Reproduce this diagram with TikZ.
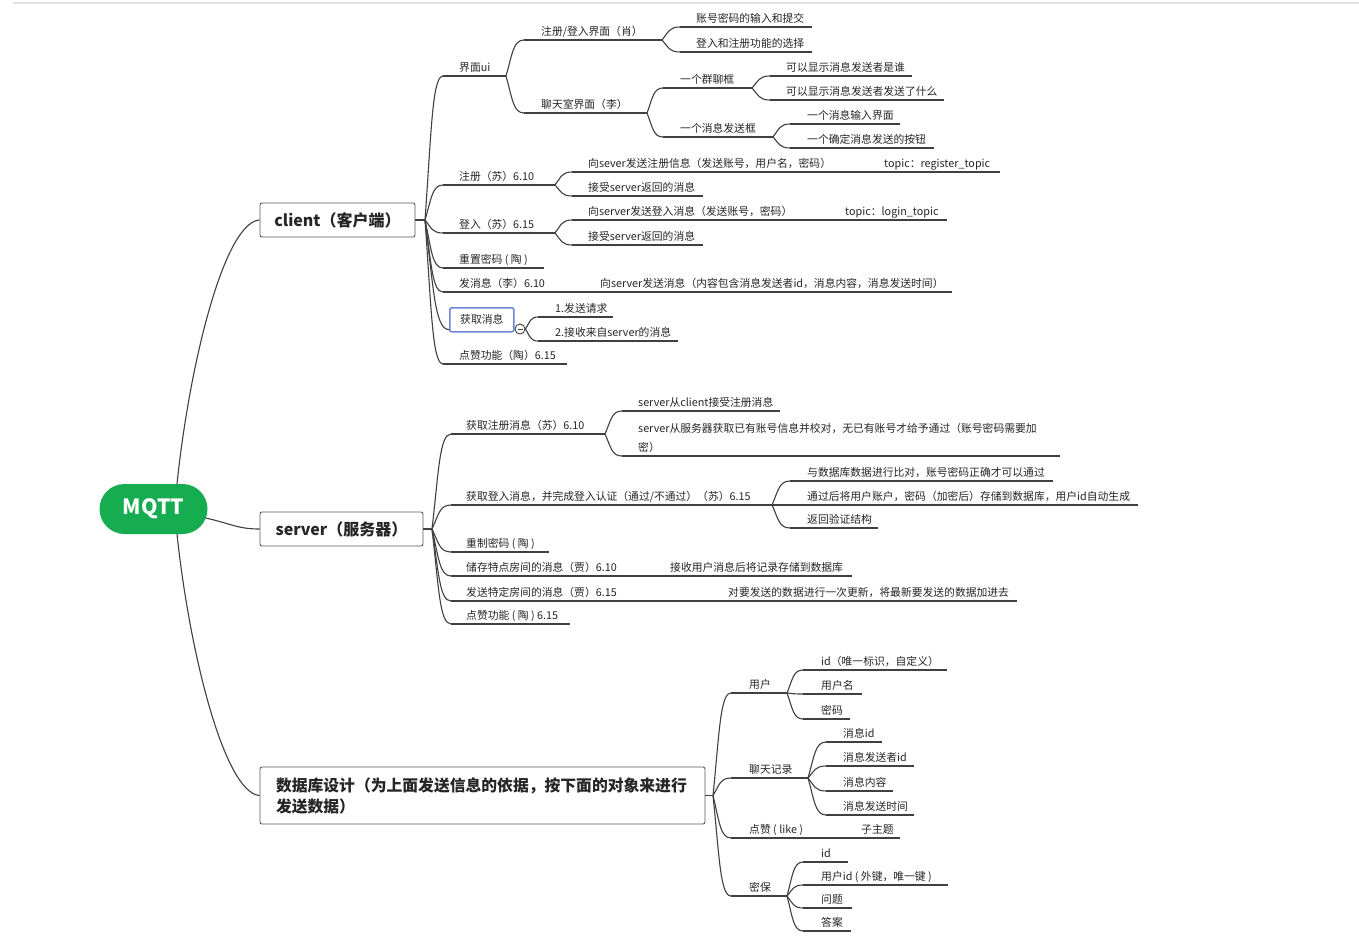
\documentclass[tikz,border=0pt]{standalone}
\usepackage{fontspec}
\setmainfont{Noto Sans CJK SC}
\usetikzlibrary{calc}
\definecolor{txtc}{RGB}{38,38,38}
\definecolor{linec}{RGB}{64,64,64}
\definecolor{mqttgreen}{RGB}{22,172,80}
\definecolor{selblue}{RGB}{110,135,215}
\definecolor{topgray}{RGB}{228,228,228}
\definecolor{boxline}{RGB}{90,90,90}
\newcommand\topicat[6]{%
  \node[txt] (#1) at (#5,#4-4.5) {#6};
  \coordinate (#1-l) at (#2,#4);
  \coordinate (#1-r) at (#3,#4);
  \draw[uline] (#1-l) -- (#1-r);}
\begin{document}
\begin{tikzpicture}[x=1pt,y=-1pt,
  txt/.style={anchor=base west, inner sep=0pt, text=txtc, font=\fontsize{10.8}{13}\selectfont},
  uline/.style={draw=linec, line width=1.1pt},
  link/.style={draw=linec, line width=1.1pt},
  fan/.style={to path={let \p1=(\tikztostart), \p2=(\tikztotarget) in
     .. controls (\x1+0.35*\x2-0.35*\x1, \y1+0.6*\y2-0.6*\y1) and (\x1+0.4*\x2-0.4*\x1, \y2) .. (\tikztotarget)}},
  branch/.style={draw=boxline, line width=0.9pt, rounded corners=2pt, fill=white, text=txtc,
     font=\fontsize{16}{20}\selectfont\bfseries, inner sep=0pt, minimum height=34pt},
]
\useasboundingbox (0,0) rectangle (1359,936);
\fill[white] (0,0) rectangle (1359,936);
\draw[topgray, line width=1.5pt] (13,3) -- (1359,3);

% root and main branches
\node[fill=mqttgreen, rounded corners=25pt, minimum width=108pt, minimum height=50pt, inner sep=0pt,
      text=white, font=\fontsize{21}{24}\selectfont\bfseries] (mqtt) at (153.5,509) {MQTT};
\node[branch, minimum width=155pt] (client) at (337.5,220) {client（客户端）};
\node[branch, minimum width=163pt] (server) at (341.5,529) {server（服务器）};
\node[branch, minimum width=445pt, minimum height=57pt, text width=413pt, align=left,
      font=\fontsize{15.8}{21}\selectfont\bfseries] (db) at (482.5,795.5)
      {数据库设计（为上面发送信息的依据，按下面的对象来进行\\发送数据）};

\draw[link] ($(mqtt.north)+(23.5,0)$) .. controls (190,360) and (225,222) .. (client.west);
\draw[link] ($(mqtt.south)+(23.5,0)$) .. controls (190,656) and (225,793) .. (db.west);
\draw[link] ($(mqtt.east)+(-2,9)$) .. controls (232,524) and (238,529) .. (server.west);

\coordinate (cf) at (425,220);
\coordinate (sf) at (432,529);
\coordinate (df) at (713,795.5);
\draw[link] (client.east) -- (cf);
\draw[link] (server.east) -- (sf);
\draw[link] (db.east) -- (df);

% ---------------- client ----------------
\topicat{ui}{443}{506}{76}{459}{界面ui}
\topicat{zc}{524}{662}{40}{541}{注册/登入界面（肖）}
\topicat{zca}{680}{812}{27}{696}{账号密码的输入和提交}
\topicat{zcb}{680}{812}{52}{696}{登入和注册功能的选择}
\topicat{lt}{524}{647}{113}{541}{聊天室界面（李）}
\topicat{ql}{663}{752}{88}{680}{一个群聊框}
\topicat{qla}{770}{912}{76}{786}{可以显示消息发送者是谁}
\topicat{qlb}{770}{944}{100}{786}{可以显示消息发送者发送了什么}
\topicat{fs}{663}{773}{137}{680}{一个消息发送框}
\topicat{fsa}{790}{900}{124}{807}{一个消息输入界面}
\topicat{fsb}{790}{934}{148}{807}{一个确定消息发送的按钮}
\topicat{reg}{443}{555}{185}{459}{注册（苏）6.10}
\topicat{rega}{572}{1000}{172}{588}{\makebox[296pt][l]{向sever发送注册信息（发送账号，用户名，密码）}topic：register\_topic}
\topicat{regb}{572}{703}{196}{588}{接受server返回的消息}
\topicat{lg}{443}{555}{233}{459}{登入（苏）6.15}
\topicat{lga}{572}{947}{220}{588}{\makebox[257pt][l]{向server发送登入消息（发送账号，密码）}topic：login\_topic}
\topicat{lgb}{572}{703}{245}{588}{接受server返回的消息}
\topicat{rs}{443}{544}{268}{459}{重置密码 ( 陶 )}
\topicat{sm}{443}{952}{292}{459}{\makebox[141pt][l]{发消息（李）6.10}向server发送消息（内容包含消息发送者id，消息内容，消息发送时间）}
\node[draw=selblue, line width=1.6pt, rounded corners=2pt, inner sep=0pt, minimum width=64pt,
      minimum height=24pt, anchor=north west, text=txtc, font=\fontsize{10.8}{13}\selectfont] (hq) at (449,307) {获取消息};
\coordinate (hq-l) at ($(hq.south west)+(0,-3)$);
\node[circle, draw=linec, fill=white, line width=0.9pt, minimum size=10pt, inner sep=0pt,
      path picture={\draw[linec, line width=0.9pt] ($(path picture bounding box.west)+(2.5,0)$) -- ($(path picture bounding box.east)+(-2.5,0)$);}] (col) at (520,329) {};
\topicat{hqa}{538}{613}{317}{555}{1.发送请求}
\topicat{hqb}{538}{678}{341}{555}{2.接收来自server的消息}
\topicat{dz}{443}{567}{364}{459}{点赞功能（陶）6.15}

\foreach \c in {ui-l,reg-l,lg-l,rs-l,sm-l,hq-l,dz-l} \draw[link] (cf) to[fan] (\c);
\foreach \c in {zc,lt} \draw[link] (ui-r) to[fan] (\c-l);
\foreach \c in {zca,zcb} \draw[link] (zc-r) to[fan] (\c-l);
\foreach \c in {ql,fs} \draw[link] (lt-r) to[fan] (\c-l);
\foreach \c in {qla,qlb} \draw[link] (ql-r) to[fan] (\c-l);
\foreach \c in {fsa,fsb} \draw[link] (fs-r) to[fan] (\c-l);
\foreach \c in {rega,regb} \draw[link] (reg-r) to[fan] (\c-l);
\foreach \c in {lga,lgb} \draw[link] (lg-r) to[fan] (\c-l);
\foreach \c in {hqa,hqb} \draw[link] (col.east) to[fan] (\c-l);

% ---------------- server ----------------
\topicat{gz}{451}{605}{434}{466}{获取注册消息（苏）6.10}
\topicat{gza}{622}{780}{411}{638}{server从client接受注册消息}
\node[txt, anchor=north west, align=left, font=\fontsize{10.8}{19}\selectfont] (gzb) at (638,423)
   {server从服务器获取已有账号信息并校对，无已有账号才给予通过（账号密码需要加\\密）};
\coordinate (gzb-l) at (622,456);
\coordinate (gzb-r) at (1060,456);
\draw[uline] (gzb-l) -- (gzb-r);
\topicat{gd}{451}{772}{505}{466}{获取登入消息，并完成登入认证（通过/不通过）（苏）6.15}
\topicat{gda}{790}{1053}{481}{807}{与数据库数据进行比对，账号密码正确才可以通过}
\topicat{gdb}{790}{1138}{505}{807}{通过后将用户账户，密码（加密后）存储到数据库，用户id自动生成}
\topicat{gdc}{790}{878}{528}{807}{返回验证结构}
\topicat{cz}{451}{549}{552}{466}{重制密码 ( 陶 )}
\topicat{cc}{451}{852}{576}{466}{\makebox[204pt][l]{储存特点房间的消息（贾）6.10}接收用户消息后将记录存储到数据库}
\topicat{fd}{451}{1017}{601}{466}{\makebox[262pt][l]{发送特定房间的消息（贾）6.15}对要发送的数据进行一次更新，将最新要发送的数据加进去}
\topicat{sdz}{451}{570}{624}{466}{点赞功能 ( 陶 ) 6.15}

\foreach \c in {gz,gd,cz,cc,fd,sdz} \draw[link] (sf) to[fan] (\c-l);
\foreach \c in {gza,gzb} \draw[link] (gz-r) to[fan] (\c-l);
\foreach \c in {gda,gdb,gdc} \draw[link] (gd-r) to[fan] (\c-l);

% ---------------- database ----------------
\topicat{yh}{731}{787}{693}{749}{用户}
\topicat{yha}{803}{947}{670}{821}{id（唯一标识，自定义）}
\topicat{yhb}{803}{862}{694}{821}{用户名}
\topicat{yhc}{803}{850}{719}{821}{密码}
\topicat{lj}{731}{808}{778}{749}{聊天记录}
\topicat{lja}{826}{882}{742}{843}{消息id}
\topicat{ljb}{826}{914}{766}{843}{消息发送者id}
\topicat{ljc}{826}{893}{791}{843}{消息内容}
\topicat{ljd}{826}{914}{815}{843}{消息发送时间}
\topicat{dzl}{731}{900}{838}{749}{\makebox[112pt][l]{点赞 ( like )}子主题}
\topicat{mb}{731}{787}{896}{749}{密保}
\topicat{mba}{803}{848}{862}{821}{id}
\topicat{mbb}{803}{948}{885}{821}{用户id ( 外键，唯一键 )}
\topicat{mbc}{803}{852}{908}{821}{问题}
\topicat{mbd}{803}{851}{931}{821}{答案}

\foreach \c in {yh,lj,dzl,mb} \draw[link] (df) to[fan] (\c-l);
\foreach \c in {yha,yhb,yhc} \draw[link] (yh-r) to[fan] (\c-l);
\foreach \c in {lja,ljb,ljc,ljd} \draw[link] (lj-r) to[fan] (\c-l);
\foreach \c in {mba,mbb,mbc,mbd} \draw[link] (mb-r) to[fan] (\c-l);
\end{tikzpicture}
\end{document}
